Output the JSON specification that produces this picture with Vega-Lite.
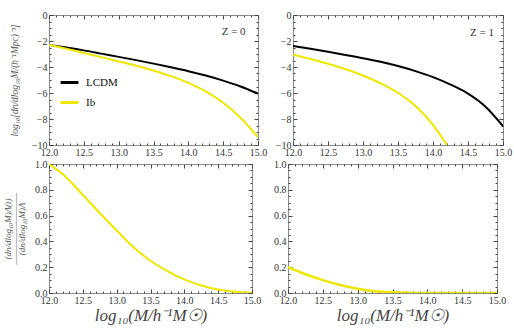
{
  "$schema": "https://vega.github.io/schema/vega-lite/v6.json",
  "padding": {"left": 3, "top": 9, "right": 4, "bottom": 2},
  "background": "white",
  "config": {
    "view": {"stroke": "#8c8c8c", "strokeWidth": 1},
    "font": "Liberation Serif",
    "axis": {
      "domain": false, "grid": false,
      "labelFont": "Liberation Serif", "labelFontSize": 10, "labelColor": "#333333",
      "tickColor": "#444444", "tickWidth": 1,
      "labelOverlap": false, "labelFlush": false, "labelBound": false,
      "titleFont": "Liberation Serif", "titleFontStyle": "italic", "titleFontWeight": "normal", "titleColor": "#555555"
    },
    "legend": {"labelFont": "Liberation Serif"}
  },
  "datasets": {
    "mf": [
      {"z": 0, "model": "LCDM", "x": 12.0, "y": -2.3},
      {"z": 0, "model": "LCDM", "x": 12.25, "y": -2.5},
      {"z": 0, "model": "LCDM", "x": 12.5, "y": -2.72},
      {"z": 0, "model": "LCDM", "x": 12.75, "y": -2.97},
      {"z": 0, "model": "LCDM", "x": 13.0, "y": -3.22},
      {"z": 0, "model": "LCDM", "x": 13.25, "y": -3.47},
      {"z": 0, "model": "LCDM", "x": 13.5, "y": -3.74},
      {"z": 0, "model": "LCDM", "x": 13.75, "y": -4.02},
      {"z": 0, "model": "LCDM", "x": 14.0, "y": -4.32},
      {"z": 0, "model": "LCDM", "x": 14.25, "y": -4.66},
      {"z": 0, "model": "LCDM", "x": 14.5, "y": -5.05},
      {"z": 0, "model": "LCDM", "x": 14.75, "y": -5.5},
      {"z": 0, "model": "LCDM", "x": 15.0, "y": -6.05},
      {"z": 0, "model": "Ib", "x": 12.0, "y": -2.3},
      {"z": 0, "model": "Ib", "x": 12.25, "y": -2.6},
      {"z": 0, "model": "Ib", "x": 12.5, "y": -2.92},
      {"z": 0, "model": "Ib", "x": 12.75, "y": -3.24},
      {"z": 0, "model": "Ib", "x": 13.0, "y": -3.57},
      {"z": 0, "model": "Ib", "x": 13.25, "y": -3.9},
      {"z": 0, "model": "Ib", "x": 13.5, "y": -4.27},
      {"z": 0, "model": "Ib", "x": 13.75, "y": -4.7},
      {"z": 0, "model": "Ib", "x": 14.0, "y": -5.22},
      {"z": 0, "model": "Ib", "x": 14.25, "y": -5.88},
      {"z": 0, "model": "Ib", "x": 14.5, "y": -6.75},
      {"z": 0, "model": "Ib", "x": 14.75, "y": -7.9},
      {"z": 0, "model": "Ib", "x": 15.0, "y": -9.4},
      {"z": 1, "model": "LCDM", "x": 12.0, "y": -2.38},
      {"z": 1, "model": "LCDM", "x": 12.25, "y": -2.6},
      {"z": 1, "model": "LCDM", "x": 12.5, "y": -2.83},
      {"z": 1, "model": "LCDM", "x": 12.75, "y": -3.07},
      {"z": 1, "model": "LCDM", "x": 13.0, "y": -3.32},
      {"z": 1, "model": "LCDM", "x": 13.25, "y": -3.6},
      {"z": 1, "model": "LCDM", "x": 13.5, "y": -3.93},
      {"z": 1, "model": "LCDM", "x": 13.75, "y": -4.32},
      {"z": 1, "model": "LCDM", "x": 14.0, "y": -4.78},
      {"z": 1, "model": "LCDM", "x": 14.25, "y": -5.35},
      {"z": 1, "model": "LCDM", "x": 14.5, "y": -6.05},
      {"z": 1, "model": "LCDM", "x": 14.75, "y": -7.05},
      {"z": 1, "model": "LCDM", "x": 15.0, "y": -8.55},
      {"z": 1, "model": "Ib", "x": 12.0, "y": -3.05},
      {"z": 1, "model": "Ib", "x": 12.25, "y": -3.38},
      {"z": 1, "model": "Ib", "x": 12.5, "y": -3.75},
      {"z": 1, "model": "Ib", "x": 12.75, "y": -4.17},
      {"z": 1, "model": "Ib", "x": 13.0, "y": -4.65},
      {"z": 1, "model": "Ib", "x": 13.25, "y": -5.25},
      {"z": 1, "model": "Ib", "x": 13.5, "y": -5.98},
      {"z": 1, "model": "Ib", "x": 13.75, "y": -7.0},
      {"z": 1, "model": "Ib", "x": 14.0, "y": -8.45},
      {"z": 1, "model": "Ib", "x": 14.1, "y": -9.2},
      {"z": 1, "model": "Ib", "x": 14.2, "y": -10.0}
    ],
    "ratio": [
      {"z": 0, "x": 12.0, "r": 1.0},
      {"z": 0, "x": 12.25, "r": 0.9},
      {"z": 0, "x": 12.5, "r": 0.76},
      {"z": 0, "x": 12.75, "r": 0.62},
      {"z": 0, "x": 13.0, "r": 0.485},
      {"z": 0, "x": 13.25, "r": 0.355},
      {"z": 0, "x": 13.5, "r": 0.25},
      {"z": 0, "x": 13.75, "r": 0.17},
      {"z": 0, "x": 14.0, "r": 0.105},
      {"z": 0, "x": 14.25, "r": 0.058},
      {"z": 0, "x": 14.5, "r": 0.027},
      {"z": 0, "x": 14.75, "r": 0.009},
      {"z": 0, "x": 15.0, "r": 0.002},
      {"z": 1, "x": 12.0, "r": 0.2},
      {"z": 1, "x": 12.25, "r": 0.145},
      {"z": 1, "x": 12.5, "r": 0.1},
      {"z": 1, "x": 12.75, "r": 0.062},
      {"z": 1, "x": 13.0, "r": 0.033},
      {"z": 1, "x": 13.25, "r": 0.014},
      {"z": 1, "x": 13.5, "r": 0.005},
      {"z": 1, "x": 13.75, "r": 0.001},
      {"z": 1, "x": 14.0, "r": 0.0},
      {"z": 1, "x": 14.5, "r": 0.0},
      {"z": 1, "x": 15.0, "r": 0.0}
    ]
  },
  "spacing": -2,
  "vconcat": [
    {
      "bounds": "flush",
      "spacing": 35,
      "hconcat": [
        {
          "width": 209, "height": 130,
          "layer": [
            {
              "data": {"name": "mf"},
              "transform": [{"filter": "datum.z == 0"}],
              "mark": {"type": "line", "strokeWidth": 2, "clip": true, "interpolate": "monotone"},
              "encoding": {
                "x": {"field": "x", "type": "quantitative", "scale": {"domain": [12, 15], "nice": false, "zero": false},
                  "axis": {"orient": "bottom", "title": null, "labelPadding": 6,
                    "values": [12,12.1,12.2,12.3,12.4,12.5,12.6,12.7,12.8,12.9,13,13.1,13.2,13.3,13.4,13.5,13.6,13.7,13.8,13.9,14,14.1,14.2,14.3,14.4,14.5,14.6,14.7,14.8,14.9,15],
                    "labelExpr": "abs(datum.value*2-round(datum.value*2))<0.001 ? format(datum.value,'.1f') : ''",
                    "tickSize": {"condition": {"test": "abs(datum.value*2-round(datum.value*2))<0.001", "value": -4}, "value": -2}}},
                "y": {"field": "y", "type": "quantitative", "scale": {"domain": [-10, 0], "nice": false, "zero": false},
                  "axis": {"orient": "left", "title": "log₁₀[dn/dlog₁₀M/(h⁻¹Mpc)⁻³]", "titleFontSize": 9.5, "titlePadding": 12, "labelPadding": 6,
                    "values": [-10,-9.5,-9,-8.5,-8,-7.5,-7,-6.5,-6,-5.5,-5,-4.5,-4,-3.5,-3,-2.5,-2,-1.5,-1,-0.5,0],
                    "labelExpr": "abs(datum.value/2-round(datum.value/2))<0.001 ? format(datum.value,'d') : ''",
                    "tickSize": {"condition": {"test": "abs(datum.value/2-round(datum.value/2))<0.001", "value": -4}, "value": -2}}},
                "color": {"field": "model", "type": "nominal",
                  "scale": {"domain": ["LCDM", "Ib"], "range": ["#000000", "#f0e600"]},
                  "legend": {"orient": "none", "legendX": 10, "legendY": 57, "title": null, "symbolType": "stroke", "symbolStrokeWidth": 3, "symbolSize": 320, "labelFont": "Liberation Serif", "labelFontSize": 11, "labelColor": "#111111", "rowPadding": 3, "labelOffset": 6}}
              }
            },
            {
              "data": {"values": [{"label": "Z = 0"}]},
              "mark": {"type": "text", "font": "Liberation Serif", "fontSize": 11, "color": "#333333"},
              "encoding": {
                "x": {"datum": 14.65, "type": "quantitative",
                  "axis": {"orient": "top", "title": null, "labels": false,
                    "values": [12,12.1,12.2,12.3,12.4,12.5,12.6,12.7,12.8,12.9,13,13.1,13.2,13.3,13.4,13.5,13.6,13.7,13.8,13.9,14,14.1,14.2,14.3,14.4,14.5,14.6,14.7,14.8,14.9,15],
                    "tickSize": {"condition": {"test": "abs(datum.value*2-round(datum.value*2))<0.001", "value": -4}, "value": -2}}},
                "y": {"datum": -1.3, "type": "quantitative",
                  "axis": {"orient": "right", "title": null, "labels": false,
                    "values": [-10,-9.5,-9,-8.5,-8,-7.5,-7,-6.5,-6,-5.5,-5,-4.5,-4,-3.5,-3,-2.5,-2,-1.5,-1,-0.5,0],
                    "tickSize": {"condition": {"test": "abs(datum.value/2-round(datum.value/2))<0.001", "value": -4}, "value": -2}}},
                "text": {"field": "label", "type": "nominal"}
              }
            }
          ]
        },
        {
          "width": 210, "height": 130,
          "layer": [
            {
              "data": {"name": "mf"},
              "transform": [{"filter": "datum.z == 1 && datum.model == 'LCDM'"}],
              "mark": {"type": "line", "strokeWidth": 2, "clip": true, "color": "#000000", "interpolate": "monotone"},
              "encoding": {
                "x": {"field": "x", "type": "quantitative", "scale": {"domain": [12, 15], "nice": false, "zero": false},
                  "axis": {"orient": "bottom", "title": null, "labelPadding": 6,
                    "values": [12,12.1,12.2,12.3,12.4,12.5,12.6,12.7,12.8,12.9,13,13.1,13.2,13.3,13.4,13.5,13.6,13.7,13.8,13.9,14,14.1,14.2,14.3,14.4,14.5,14.6,14.7,14.8,14.9,15],
                    "labelExpr": "abs(datum.value*2-round(datum.value*2))<0.001 ? format(datum.value,'.1f') : ''",
                    "tickSize": {"condition": {"test": "abs(datum.value*2-round(datum.value*2))<0.001", "value": -4}, "value": -2}}},
                "y": {"field": "y", "type": "quantitative", "scale": {"domain": [-10, 0], "nice": false, "zero": false},
                  "axis": {"orient": "left", "title": null, "labelPadding": 6,
                    "values": [-10,-9.5,-9,-8.5,-8,-7.5,-7,-6.5,-6,-5.5,-5,-4.5,-4,-3.5,-3,-2.5,-2,-1.5,-1,-0.5,0],
                    "labelExpr": "abs(datum.value/2-round(datum.value/2))<0.001 ? format(datum.value,'d') : ''",
                    "tickSize": {"condition": {"test": "abs(datum.value/2-round(datum.value/2))<0.001", "value": -4}, "value": -2}}}
              }
            },
            {
              "data": {"name": "mf"},
              "transform": [{"filter": "datum.z == 1 && datum.model == 'Ib'"}],
              "mark": {"type": "line", "strokeWidth": 2, "clip": true, "color": "#f0e600", "interpolate": "monotone"},
              "encoding": {
                "x": {"field": "x", "type": "quantitative", "axis": null},
                "y": {"field": "y", "type": "quantitative", "axis": null}
              }
            },
            {
              "data": {"values": [{"label": "Z = 1"}]},
              "mark": {"type": "text", "font": "Liberation Serif", "fontSize": 11, "color": "#333333"},
              "encoding": {
                "x": {"datum": 14.7, "type": "quantitative",
                  "axis": {"orient": "top", "title": null, "labels": false,
                    "values": [12,12.1,12.2,12.3,12.4,12.5,12.6,12.7,12.8,12.9,13,13.1,13.2,13.3,13.4,13.5,13.6,13.7,13.8,13.9,14,14.1,14.2,14.3,14.4,14.5,14.6,14.7,14.8,14.9,15],
                    "tickSize": {"condition": {"test": "abs(datum.value*2-round(datum.value*2))<0.001", "value": -4}, "value": -2}}},
                "y": {"datum": -1.35, "type": "quantitative",
                  "axis": {"orient": "right", "title": null, "labels": false,
                    "values": [-10,-9.5,-9,-8.5,-8,-7.5,-7,-6.5,-6,-5.5,-5,-4.5,-4,-3.5,-3,-2.5,-2,-1.5,-1,-0.5,0],
                    "tickSize": {"condition": {"test": "abs(datum.value/2-round(datum.value/2))<0.001", "value": -4}, "value": -2}}},
                "text": {"field": "label", "type": "nominal"}
              }
            }
          ]
        }
      ]
    },
    {
      "bounds": "flush",
      "spacing": 36,
      "hconcat": [
        {
          "width": 203, "height": 129,
          "data": {"name": "ratio"},
          "transform": [{"filter": "datum.z == 0"}],
          "layer": [
            {
              "mark": {"type": "line", "strokeWidth": 2, "clip": true, "color": "#f0e600", "interpolate": "monotone"},
              "encoding": {
                "x": {"field": "x", "type": "quantitative", "scale": {"domain": [12, 15], "nice": false, "zero": false},
                  "axis": {"orient": "bottom", "title": "log₁₀(M/h⁻¹M☉)", "titleFontSize": 17, "titleColor": "#444444", "titlePadding": 0, "labelPadding": 6,
                    "values": [12,12.1,12.2,12.3,12.4,12.5,12.6,12.7,12.8,12.9,13,13.1,13.2,13.3,13.4,13.5,13.6,13.7,13.8,13.9,14,14.1,14.2,14.3,14.4,14.5,14.6,14.7,14.8,14.9,15],
                    "labelExpr": "abs(datum.value*2-round(datum.value*2))<0.001 ? format(datum.value,'.1f') : ''",
                    "tickSize": {"condition": {"test": "abs(datum.value*2-round(datum.value*2))<0.001", "value": -4}, "value": -2}}},
                "y": {"field": "r", "type": "quantitative", "scale": {"domain": [0, 1], "nice": false},
                  "axis": {"orient": "left", "title": ["(dn/dlog₁₀M)Λ(t)", "—————————", "(dn/dlog₁₀M)Λ"], "titleFontSize": 9, "titleLineHeight": 7, "titlePadding": 8, "labelPadding": 6,
                    "values": [0,0.05,0.1,0.15,0.2,0.25,0.3,0.35,0.4,0.45,0.5,0.55,0.6,0.65,0.7,0.75,0.8,0.85,0.9,0.95,1],
                    "labelExpr": "abs(datum.value*5-round(datum.value*5))<0.001 ? format(datum.value,'.1f') : ''",
                    "tickSize": {"condition": {"test": "abs(datum.value*5-round(datum.value*5))<0.001", "value": -4}, "value": -2}}}
              }
            },
            {
              "mark": {"type": "line", "strokeOpacity": 0},
              "encoding": {
                "x": {"field": "x", "type": "quantitative",
                  "axis": {"orient": "top", "title": null, "labels": false,
                    "values": [12,12.1,12.2,12.3,12.4,12.5,12.6,12.7,12.8,12.9,13,13.1,13.2,13.3,13.4,13.5,13.6,13.7,13.8,13.9,14,14.1,14.2,14.3,14.4,14.5,14.6,14.7,14.8,14.9,15],
                    "tickSize": {"condition": {"test": "abs(datum.value*2-round(datum.value*2))<0.001", "value": -4}, "value": -2}}},
                "y": {"field": "r", "type": "quantitative",
                  "axis": {"orient": "right", "title": null, "labels": false,
                    "values": [0,0.05,0.1,0.15,0.2,0.25,0.3,0.35,0.4,0.45,0.5,0.55,0.6,0.65,0.7,0.75,0.8,0.85,0.9,0.95,1],
                    "tickSize": {"condition": {"test": "abs(datum.value*5-round(datum.value*5))<0.001", "value": -4}, "value": -2}}}
              }
            }
          ]
        },
        {
          "width": 209, "height": 129,
          "data": {"name": "ratio"},
          "transform": [{"filter": "datum.z == 1"}],
          "layer": [
            {
              "mark": {"type": "line", "strokeWidth": 2.5, "clip": true, "color": "#f0e600", "interpolate": "monotone"},
              "encoding": {
                "x": {"field": "x", "type": "quantitative", "scale": {"domain": [12, 15], "nice": false, "zero": false},
                  "axis": {"orient": "bottom", "title": "log₁₀(M/h⁻¹M☉)", "titleFontSize": 17, "titleColor": "#444444", "titlePadding": 0, "labelPadding": 6,
                    "values": [12,12.1,12.2,12.3,12.4,12.5,12.6,12.7,12.8,12.9,13,13.1,13.2,13.3,13.4,13.5,13.6,13.7,13.8,13.9,14,14.1,14.2,14.3,14.4,14.5,14.6,14.7,14.8,14.9,15],
                    "labelExpr": "abs(datum.value*2-round(datum.value*2))<0.001 ? format(datum.value,'.1f') : ''",
                    "tickSize": {"condition": {"test": "abs(datum.value*2-round(datum.value*2))<0.001", "value": -4}, "value": -2}}},
                "y": {"field": "r", "type": "quantitative", "scale": {"domain": [0, 1], "nice": false},
                  "axis": {"orient": "left", "title": null, "labelPadding": 6,
                    "values": [0,0.05,0.1,0.15,0.2,0.25,0.3,0.35,0.4,0.45,0.5,0.55,0.6,0.65,0.7,0.75,0.8,0.85,0.9,0.95,1],
                    "labelExpr": "abs(datum.value*5-round(datum.value*5))<0.001 ? format(datum.value,'.1f') : ''",
                    "tickSize": {"condition": {"test": "abs(datum.value*5-round(datum.value*5))<0.001", "value": -4}, "value": -2}}}
              }
            },
            {
              "mark": {"type": "line", "strokeOpacity": 0},
              "encoding": {
                "x": {"field": "x", "type": "quantitative",
                  "axis": {"orient": "top", "title": null, "labels": false,
                    "values": [12,12.1,12.2,12.3,12.4,12.5,12.6,12.7,12.8,12.9,13,13.1,13.2,13.3,13.4,13.5,13.6,13.7,13.8,13.9,14,14.1,14.2,14.3,14.4,14.5,14.6,14.7,14.8,14.9,15],
                    "tickSize": {"condition": {"test": "abs(datum.value*2-round(datum.value*2))<0.001", "value": -4}, "value": -2}}},
                "y": {"field": "r", "type": "quantitative",
                  "axis": {"orient": "right", "title": null, "labels": false,
                    "values": [0,0.05,0.1,0.15,0.2,0.25,0.3,0.35,0.4,0.45,0.5,0.55,0.6,0.65,0.7,0.75,0.8,0.85,0.9,0.95,1],
                    "tickSize": {"condition": {"test": "abs(datum.value*5-round(datum.value*5))<0.001", "value": -4}, "value": -2}}}
              }
            }
          ]
        }
      ]
    }
  ]
}
